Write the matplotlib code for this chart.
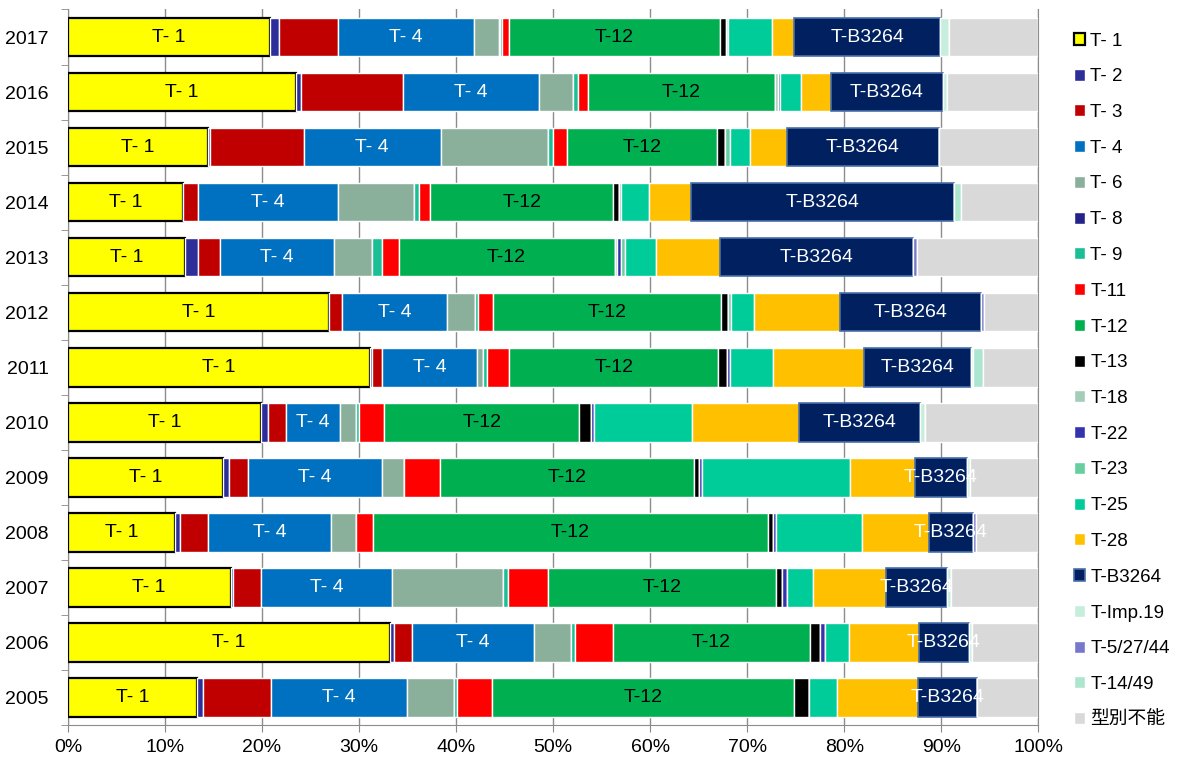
import numpy as np
import matplotlib
matplotlib.use("Agg")
from matplotlib import pyplot as plt

plt.rcParams['font.family'] = ['Liberation Sans', 'Noto Sans CJK JP', 'DejaVu Sans']

years = ['2017', '2016', '2015', '2014', '2013', '2012', '2011',
         '2010', '2009', '2008', '2007', '2006', '2005']

# share of each type per year (%), years as above
t1 = [20.8, 23.5, 14.4, 11.9, 12.1, 26.9, 31.1, 19.85, 15.95, 11.0, 16.75, 33.3, 13.25]
t2 = [0.9, 0.55, 0.2, 0, 1.25, 0, 0.25, 0.7, 0.65, 0.5, 0.25, 0.45, 0.7]
t3 = [6.1, 10.45, 9.7, 1.5, 2.3, 1.35, 0.95, 1.85, 1.9, 2.95, 2.9, 1.85, 6.95]
t4 = [14.0, 14.0, 14.1, 14.4, 11.7, 10.8, 9.85, 5.65, 13.8, 12.65, 13.5, 12.55, 14.0]
t6 = [2.6, 3.5, 11.1, 7.9, 4.0, 2.9, 0.55, 1.6, 2.3, 2.55, 11.4, 3.8, 4.9]
t8 = [0.1, 0, 0, 0, 0, 0, 0, 0, 0, 0, 0, 0, 0]
t9 = [0.2, 0.55, 0.5, 0.5, 1.0, 0.3, 0.5, 0.3, 0, 0, 0.5, 0.45, 0.3]
t11 = [0.7, 1.0, 1.4, 1.1, 1.7, 1.55, 2.25, 2.6, 3.75, 1.75, 4.2, 3.95, 3.55]
t12 = [21.7, 19.3, 15.5, 18.9, 22.25, 23.45, 21.55, 20.1, 26.1, 40.7, 23.5, 20.35, 31.1]
t13 = [0.6, 0, 0.85, 0.55, 0, 0.75, 0.9, 1.2, 0.5, 0.5, 0.6, 1.05, 1.6]
t18 = [0.2, 0.3, 0, 0, 0.3, 0, 0, 0, 0, 0, 0, 0, 0]
t22 = [0, 0.2, 0, 0, 0.4, 0, 0.3, 0.35, 0.4, 0.35, 0.5, 0.45, 0]
t23 = [0, 0, 0.5, 0.25, 0.35, 0.25, 0, 0, 0, 0, 0, 0, 0]
t25 = [4.6, 2.2, 2.0, 2.85, 3.2, 2.45, 4.45, 10.05, 15.2, 8.8, 2.7, 2.5, 2.9]
t28 = [2.25, 3.0, 3.8, 4.4, 6.6, 8.85, 9.3, 11.0, 6.7, 6.9, 7.5, 7.3, 8.35]
tb3264 = [15.05, 11.55, 15.75, 27.05, 19.85, 14.45, 11.1, 12.5, 5.3, 4.55, 6.25, 5.1, 6.0]
timp19 = [0.9, 0.4, 0, 0, 0, 0, 0.2, 0.45, 0.4, 0, 0.45, 0.3, 0]
t52744 = [0, 0, 0, 0, 0.4, 0.35, 0, 0, 0, 0.35, 0, 0, 0]
t1449 = [0, 0, 0, 0.7, 0, 0, 1.0, 0, 0, 0, 0, 0, 0]
untyped = [9.2, 9.45, 10.2, 8.0, 12.55, 5.6, 5.7, 11.7, 7.0, 6.4, 9.0, 6.9, 6.35]

names = ['T- 1', 'T- 2', 'T- 3', 'T- 4', 'T- 6', 'T- 8', 'T- 9', 'T-11', 'T-12',
         'T-13', 'T-18', 'T-22', 'T-23', 'T-25', 'T-28', 'T-B3264', 'T-Imp.19',
         'T-5/27/44', 'T-14/49', '型別不能']
series = [t1, t2, t3, t4, t6, t8, t9, t11, t12, t13, t18, t22, t23, t25, t28,
          tb3264, timp19, t52744, t1449, untyped]
colors = ['#FFFF00', '#2E2E9A', '#C00000', '#0070C0', '#8AB09C', '#23238A',
          '#1ABF95', '#FF0000', '#00B050', '#000000', '#A3CDB8', '#3333B0',
          '#66CFA0', '#00CC99', '#FFC000', '#002060', '#C6EEDD', '#7777CC',
          '#ADE6CF', '#D9D9D9']

# the chart is a 100% stack
data = np.array(series, dtype=float)
data = data / data.sum(axis=0)

fig = plt.figure(figsize=(11.84, 7.59), dpi=100)
ax = fig.add_axes([0.0574, 0.0448, 0.8196, 0.9427])

y = np.arange(len(years))
left = np.zeros(len(years))
bars = []
for i, (name, col) in enumerate(zip(names, colors)):
    if name == 'T- 1':
        ec, lw = 'black', 1.6
    elif name == 'T-B3264':
        ec, lw = '#4A70A8', 1.2
    else:
        ec, lw = 'white', 1.0
    b = ax.barh(y, data[i], left=left, height=0.7, color=col, edgecolor=ec,
                linewidth=lw, label=name, zorder=3)
    bars.append(b)
    left = left + data[i]

label_style = {'T- 1': 'black', 'T- 4': 'white', 'T-12': 'black', 'T-B3264': 'white'}
for i, name in enumerate(names):
    if name in label_style:
        ax.bar_label(bars[i], labels=[name] * len(years), label_type='center',
                     color=label_style[name], fontsize=14, zorder=5)

ax.set_xlim(0, 1)
ax.set_ylim(len(years) - 0.5, -0.5)
ax.set_xticks(np.arange(0, 1.01, 0.1))
ax.set_xticklabels([f'{int(round(v * 100))}%' for v in np.arange(0, 1.01, 0.1)])
ax.set_yticks(y)
ax.set_yticklabels(years)
ax.set_yticks(np.arange(-0.5, len(years), 1), minor=True)
ax.tick_params(axis='y', which='major', length=0, pad=14, labelsize=14)
ax.tick_params(axis='y', which='minor', length=5, color='#888888', direction='out')
ax.tick_params(axis='x', length=5, color='#888888', labelsize=14, pad=5)
ax.grid(axis='x', color='#8C8C8C', linewidth=1.0, zorder=0)
ax.set_axisbelow(True)
ax.spines['top'].set_visible(False)
for s in ['left', 'bottom', 'right']:
    ax.spines[s].set_color('#8C8C8C')

fig.legend(handles=bars, labels=names, loc='upper left',
           bbox_to_anchor=(1066 / 1184, 1 - 25 / 759), frameon=False,
           fontsize=13.5, handlelength=0.6, handleheight=0.6, handletextpad=0.3,
           labelspacing=1.0, borderaxespad=0)

fig.savefig('out.png', dpi=100)
